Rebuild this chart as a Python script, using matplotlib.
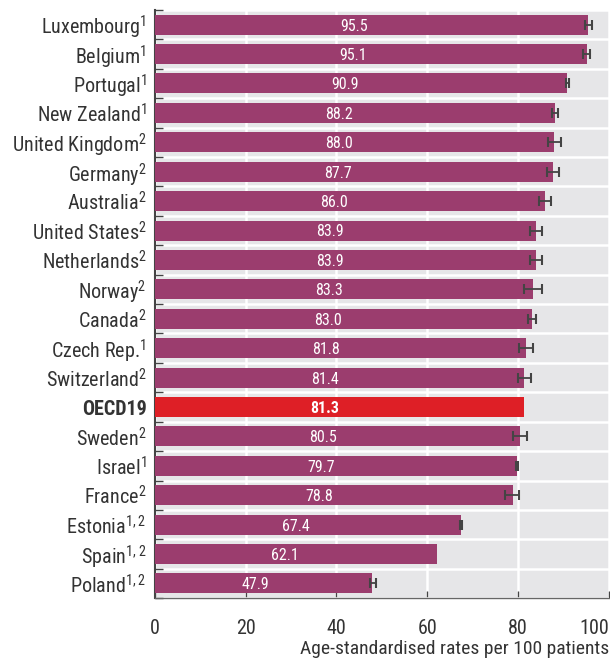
import matplotlib.pyplot as plt
import numpy as np

plt.rcParams['font.family'] = ['Roboto Condensed', 'Liberation Sans Narrow', 'Roboto', 'DejaVu Sans']
plt.rcParams['mathtext.default'] = 'regular'

countries = ["Luxembourg", "Belgium", "Portugal", "New Zealand", "United Kingdom",
             "Germany", "Australia", "United States", "Netherlands", "Norway",
             "Canada", "Czech Rep.", "Switzerland", "OECD19", "Sweden", "Israel",
             "France", "Estonia", "Spain", "Poland"]
notes = ["1", "1", "1", "1", "2", "2", "2", "2", "2", "2",
         "2", "1", "2", "", "2", "1", "2", "1, 2", "1, 2", "1, 2"]
rates = [95.5, 95.1, 90.9, 88.2, 88.0, 87.7, 86.0, 83.9, 83.9, 83.3,
         83.0, 81.8, 81.4, 81.3, 80.5, 79.7, 78.8, 67.4, 62.1, 47.9]
ci_low = [94.7, 94.3, 90.5, 87.5, 86.6, 86.4, 84.7, 82.6, 82.6, 81.3,
          82.1, 80.2, 80.0, None, 79.0, 79.6, 77.2, 67.2, None, 47.3]
ci_high = [96.3, 95.8, 91.3, 88.9, 89.4, 89.1, 87.3, 85.2, 85.2, 85.3,
           83.9, 83.4, 82.8, None, 82.0, 79.9, 80.2, 67.6, None, 48.8]

purple = '#9b3d6e'
red = '#de1f26'

fig = plt.figure(figsize=(6.1, 6.61), dpi=100)
ax = fig.add_axes([0.254, 0.095, 0.744, 0.89])
ax.set_facecolor('#e6e6e8')

n = len(countries)
ypos = np.arange(n)[::-1]
colors = [red if c == "OECD19" else purple for c in countries]
ax.barh(ypos, rates, height=0.68, color=colors, zorder=3)

for y, v, lo, hi, c in zip(ypos, rates, ci_low, ci_high, countries):
    if lo is not None:
        ax.errorbar(v, y, xerr=[[v - lo], [hi - v]], fmt='none', ecolor='#444444',
                    elinewidth=1.3, capsize=3.5, capthick=1.5, zorder=4)
    ax.text(v * 0.46, y - 0.05, f"{v:.1f}", color='white', ha='center', va='center',
            fontsize=11.5, fontweight='bold' if c == "OECD19" else 'normal', zorder=5)

labels = [c if not nt else c + "$^{" + nt + "}$" for c, nt in zip(countries, notes)]
ax.set_yticks(ypos)
ax.set_yticklabels(labels, fontsize=14.5, color='#333333')
for lab, c in zip(ax.get_yticklabels(), countries):
    if c == "OECD19":
        lab.set_fontweight('bold')
ax.tick_params(axis='y', which='major', length=0, pad=6)
ax.set_yticks(np.arange(-0.5, n, 1), minor=True)
ax.tick_params(axis='y', which='minor', direction='in', length=6, width=1, color='#444444')
ax.set_ylim(-0.5, n - 0.5)

ax.set_xlim(0, 100)
ax.set_xticks([0, 20, 40, 60, 80, 100])
ax.tick_params(axis='x', direction='in', length=5, width=1, color='#444444',
               labelsize=14.5, labelcolor='#333333', pad=15)
ax.get_xticklabels()[-1].set_horizontalalignment('right')

ax.set_axisbelow(True)
ax.grid(axis='x', color='white', linewidth=1.8)
ax.grid(axis='y', which='minor', color='white', linewidth=1.8)

for s in ['top', 'right']:
    ax.spines[s].set_visible(False)
ax.spines['left'].set_color('#444444')
ax.spines['left'].set_linewidth(1.5)
ax.spines['bottom'].set_color('#666666')
ax.spines['bottom'].set_linewidth(1)

fig.text(0.998, 0.005, "Age-standardised rates per 100 patients", ha='right', va='bottom',
         fontsize=14, color='#333333')

fig.savefig("out.png", dpi=100)
